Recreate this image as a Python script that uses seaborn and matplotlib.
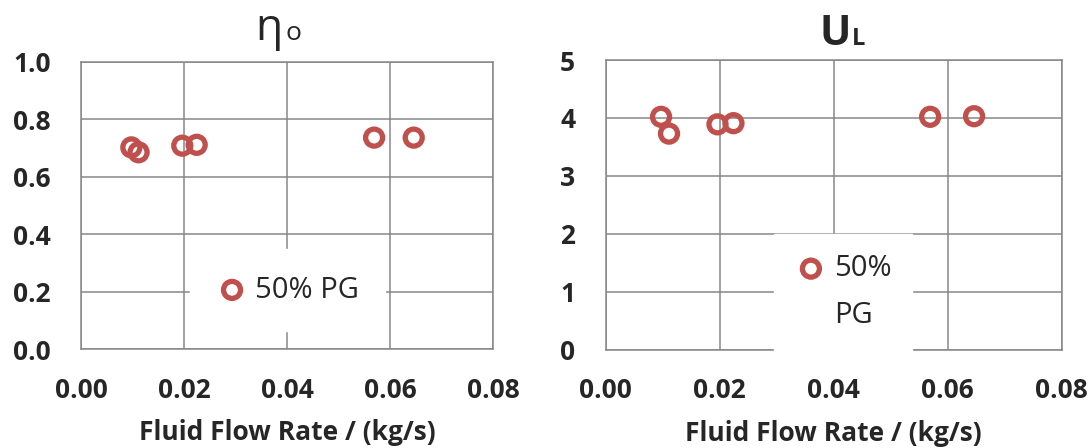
import matplotlib
matplotlib.use("Agg")
import matplotlib.pyplot as plt
from matplotlib.lines import Line2D
import seaborn as sns

sns.set_style("white")
plt.rcParams["font.family"] = ["Open Sans", "DejaVu Sans"]

# values
flow_rate = [0.0097, 0.0111, 0.0196, 0.0224, 0.0569, 0.0646]
eta_o = [0.702, 0.685, 0.708, 0.711, 0.736, 0.736]
u_l = [4.02, 3.73, 3.89, 3.91, 4.02, 4.03]
series_label = "50% PG"

x_ticks = [0.00, 0.02, 0.04, 0.06, 0.08]
eta_ticks = [0.0, 0.2, 0.4, 0.6, 0.8, 1.0]
ul_ticks = [0, 1, 2, 3, 4, 5]

RED = "#C0504D"
GRID = "#878787"

fig = plt.figure(figsize=(10.92, 4.48), dpi=100)
ax1 = fig.add_axes([0.0746, 0.2203, 0.3768, 0.642])
ax2 = fig.add_axes([0.5547, 0.2194, 0.4177, 0.6466])


def style_axis(ax, yticks, yfmt):
    ax.set_xlim(0, 0.08)
    ax.set_ylim(yticks[0], yticks[-1])
    ax.set_xticks(x_ticks)
    ax.set_xticklabels([f"{t:.2f}" for t in x_ticks], fontsize=19, fontweight="bold")
    ax.set_yticks(yticks)
    ax.set_yticklabels([yfmt(t) for t in yticks], fontsize=19, fontweight="bold")
    ax.grid(True, color=GRID, linewidth=1.1)
    ax.set_axisbelow(True)
    for sp in ax.spines.values():
        sp.set_color(GRID)
        sp.set_linewidth(1.1)
    ax.tick_params(axis="both", direction="out", length=7, width=1.1, color=GRID)
    ax.tick_params(axis="x", pad=13)
    ax.tick_params(axis="y", pad=15)
    ax.set_xlabel("Fluid Flow Rate / (kg/s)", fontsize=19, fontweight="bold", labelpad=11)
    ax.set_ylabel("")


def two_part_title(ax, main, sub, x, y, size, sub_size, gap, weight):
    t = ax.text(x, y, main, transform=ax.transAxes, ha="center", va="baseline",
                fontsize=size, fontweight=weight)
    ax.annotate(sub, xy=(1, y), xycoords=(t, "axes fraction"), xytext=(gap, 0),
                textcoords="offset points", ha="left", va="baseline",
                fontsize=sub_size, fontweight=weight)


sns.scatterplot(x=flow_rate, y=eta_o, ax=ax1, marker="o", s=150,
                facecolor="none", edgecolor=RED, linewidth=3.8, label=series_label, zorder=3)
style_axis(ax1, eta_ticks, lambda t: f"{t:.1f}")
two_part_title(ax1, "η", "o", 0.455, 1.0765, 32, 19, 2, "normal")
ax1.legend(loc="center", bbox_to_anchor=(0.501, 0.206), fontsize=21, frameon=True,
           facecolor="white", edgecolor="white", framealpha=1, borderpad=0.9,
           handletextpad=0.25, handlelength=1.1, fancybox=False)

sns.scatterplot(x=flow_rate, y=u_l, ax=ax2, marker="o", s=150,
                facecolor="none", edgecolor=RED, linewidth=3.8, label=series_label, zorder=3)
style_axis(ax2, ul_ticks, lambda t: f"{t:d}")
two_part_title(ax2, "U", "L", 0.503, 1.0535, 30, 17, 1, "bold")
h, _ = ax2.get_legend_handles_labels()
blank = Line2D([], [], linestyle="none", marker="none")
first, second = series_label.split(" ")
ax2.legend(handles=[h[0], blank], labels=[first, second], loc="center",
           bbox_to_anchor=(0.521, 0.199), fontsize=21, frameon=True,
           facecolor="white", edgecolor="white", framealpha=1, borderpad=0.7,
           handletextpad=0.25, handlelength=1.1, labelspacing=0.6, fancybox=False)

fig.savefig("out.png", dpi=100)
